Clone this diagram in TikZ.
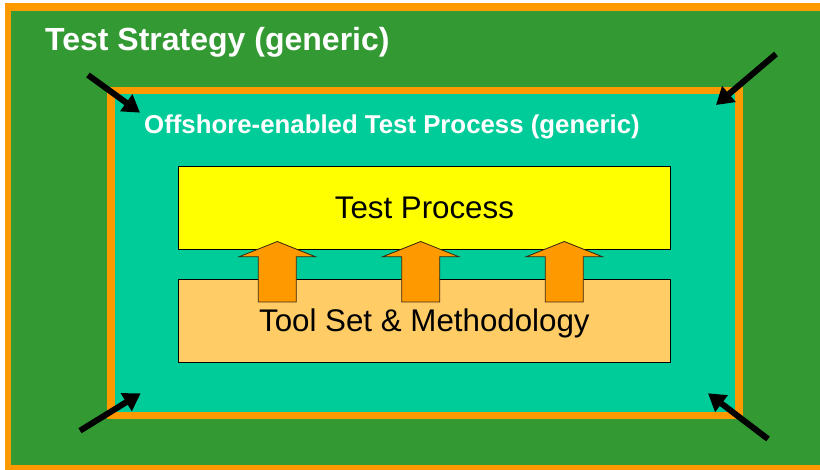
\documentclass[tikz,border=0pt]{standalone}
\usepackage{fontspec}
\setmainfont{Liberation Sans}
\usetikzlibrary{arrows.meta}

\definecolor{framegreen}{HTML}{339933}
\definecolor{frameorange}{HTML}{FF9900}
\definecolor{procteal}{HTML}{00CC99}
\definecolor{procyellow}{HTML}{FFFF00}
\definecolor{toolorange}{HTML}{FFCC66}

\tikzset{
  titletext/.style={text=white, inner sep=0pt, anchor=base west,
    font=\bfseries\fontsize{32}{38}\selectfont},
  subtitletext/.style={text=white, inner sep=0pt, anchor=base west,
    font=\bfseries\fontsize{25.8}{30}\selectfont},
  layerbox/.style={draw=black, line width=0.8pt, minimum width=492.5pt,
    inner sep=0pt, text height=22pt, text depth=0pt,
    font=\fontsize{31.3}{36}\selectfont},
  pointer/.style={draw=black, line width=6pt,
    -{Triangle[length=17pt,width=20pt]}},
  liftarrow/.style={draw=black!70!brown, line width=0.8pt, fill=frameorange,
    line join=miter}
}

\begin{document}
\begin{tikzpicture}[x=1pt,y=-1pt]
\useasboundingbox (0,0) rectangle (820,470);
\clip (0,0) rectangle (820,470);

% outer strategy frame: green field, orange band on top, left and bottom
\fill[white] (0,0) rectangle (820,470);
\fill[framegreen] (5,3) rectangle (825,475);
\fill[frameorange] (5,3) rectangle (825,11);
\fill[frameorange] (5,3) rectangle (11,475);
\fill[frameorange] (5,465) rectangle (825,475);
\node[titletext] (strategy) at (45,51) {Test Strategy (generic)};

% inner offshore process frame
\fill[frameorange] (107,87) rectangle (743,419.3);
\fill[procteal] (115,94.5) rectangle (734.5,411.7);
\node[subtitletext] (offshore) at (144,133.3) {Offshore-enabled Test Process (generic)};

% the two layers
\node[layerbox, fill=procyellow, minimum height=83.3pt] (process) at (424.4,207.7) {Test Process};
\node[layerbox, fill=toolorange, minimum height=83pt] (tools) at (424.4,320.8) {Tool Set \& Methodology};

% lift arrows from the tool layer into the process layer
\foreach \cx in {277.3,420.7,564.3}{
  \draw[liftarrow] (\cx-19,302) -- (\cx-19,256.7) -- (\cx-38,256.7)
    -- (\cx,241.5) -- (\cx+38,256.7) -- (\cx+19,256.7) -- (\cx+19,302) -- cycle;
}

% corner pointers towards the inner frame
\coordinate (tlTail) at (88,75);
\coordinate (tlTip) at (140,112.7);
\coordinate (trTail) at (776,54);
\coordinate (trTip) at (716,105);
\coordinate (blTail) at (80,430.7);
\coordinate (blTip) at (140.7,393.3);
\coordinate (brTail) at (768,439);
\coordinate (brTip) at (708,393.3);
\draw[pointer] (tlTail) -- (tlTip);
\draw[pointer] (trTail) -- (trTip);
\draw[pointer] (blTail) -- (blTip);
\draw[pointer] (brTail) -- (brTip);
\end{tikzpicture}
\end{document}
